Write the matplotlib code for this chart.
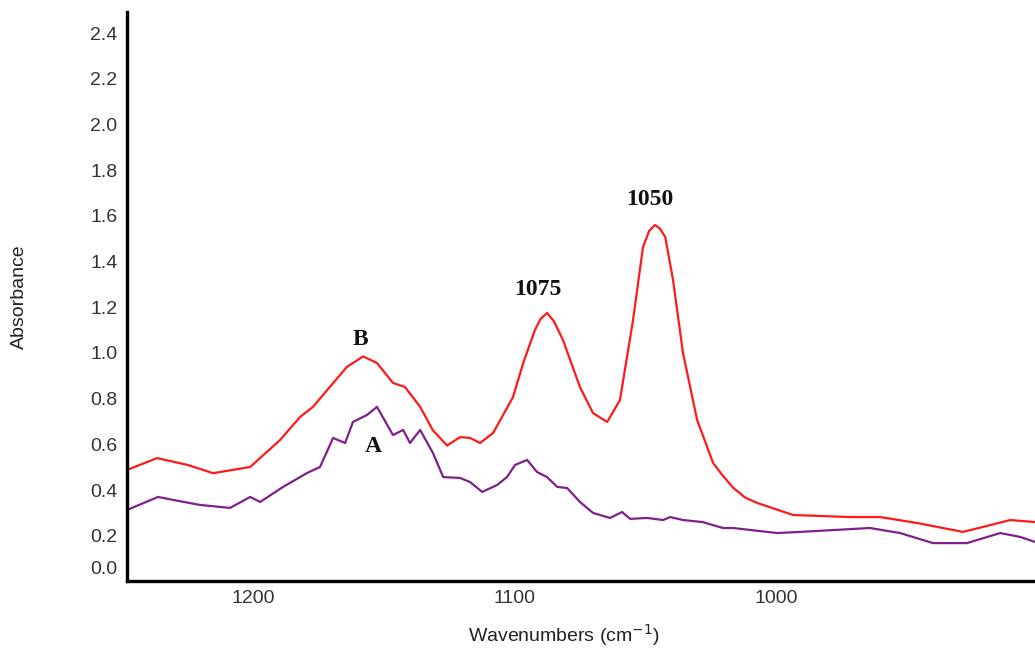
import matplotlib
matplotlib.use("Agg")
import matplotlib.pyplot as plt
import matplotlib.transforms as mtransforms

# spectrum B (red)
wn_b = [1248.2, 1236.7, 1225.0, 1215.3, 1201.1, 1189.7, 1182.0, 1177.1, 1170.0, 1164.1,
        1157.9, 1152.6, 1146.5, 1141.9, 1136.1, 1131.2, 1125.8, 1120.8, 1117.0, 1113.2,
        1108.2, 1100.6, 1096.7, 1092.2, 1090.0, 1087.6, 1085.0, 1081.5, 1075.0, 1070.0,
        1064.6, 1059.7, 1054.7, 1050.9, 1048.5, 1046.3, 1044.5, 1042.4, 1039.4, 1035.6,
        1030.2, 1024.1, 1020.6, 1016.4, 1011.8, 1007.3, 993.5, 971.7, 960.2, 946.1,
        928.5, 920.8, 910.5, 901.0]
abs_b = [0.488, 0.540, 0.510, 0.474, 0.501, 0.619, 0.720, 0.764, 0.860, 0.939,
         0.985, 0.956, 0.869, 0.851, 0.764, 0.661, 0.595, 0.632, 0.628, 0.606,
         0.650, 0.807, 0.956, 1.101, 1.150, 1.175, 1.140, 1.057, 0.851, 0.737,
         0.698, 0.794, 1.144, 1.463, 1.535, 1.560, 1.545, 1.508, 1.319, 1.000,
         0.707, 0.519, 0.466, 0.410, 0.367, 0.344, 0.291, 0.282, 0.282, 0.256,
         0.217, 0.239, 0.269, 0.260]

# spectrum A (purple)
wn_a = [1248.2, 1236.3, 1230.6, 1220.3, 1208.8, 1201.1, 1197.3, 1188.5, 1179.3, 1174.4,
        1169.4, 1164.8, 1161.8, 1156.4, 1152.6, 1146.5, 1142.6, 1140.0, 1136.1, 1131.2,
        1127.3, 1120.8, 1117.0, 1112.4, 1106.7, 1102.9, 1099.8, 1095.2, 1091.4, 1087.6,
        1083.7, 1079.9, 1075.0, 1070.0, 1063.5, 1058.9, 1055.8, 1049.3, 1043.2, 1040.5,
        1035.6, 1028.1, 1020.3, 1016.4, 999.6, 990.8, 964.1, 952.6, 940.0, 927.0,
        914.3, 906.7, 901.0]
abs_a = [0.313, 0.370, 0.357, 0.335, 0.322, 0.370, 0.348, 0.414, 0.475, 0.501,
         0.628, 0.606, 0.698, 0.729, 0.764, 0.641, 0.663, 0.606, 0.663, 0.562,
         0.457, 0.453, 0.435, 0.392, 0.422, 0.457, 0.510, 0.532, 0.479, 0.457,
         0.414, 0.409, 0.348, 0.300, 0.278, 0.304, 0.274, 0.278, 0.269, 0.282,
         0.269, 0.260, 0.234, 0.234, 0.212, 0.217, 0.234, 0.212, 0.168, 0.168,
         0.212, 0.195, 0.173]

yticks = [0.0, 0.2, 0.4, 0.6, 0.8, 1.0, 1.2, 1.4, 1.6, 1.8, 2.0, 2.2, 2.4]
xticks = [1200, 1100, 1000]

# labels on the plot: text, wavenumber, absorbance
notes = [("B", 1159.1, 1.057), ("A", 1154.1, 0.589),
         ("1075", 1091.0, 1.276), ("1050", 1048.2, 1.670)]

sans = ["Liberation Sans", "DejaVu Sans"]
serif = ["Liberation Serif", "DejaVu Serif"]

fig = plt.figure(figsize=(10.35, 6.5), dpi=100)
ax = fig.add_axes([0.1227, 0.1054, 0.8773, 0.8761])

ax.plot(wn_b, abs_b, color="#ff1a1a", lw=1.6)
ax.plot(wn_a, abs_a, color="#80208c", lw=1.6)

for txt, x, y in notes:
    ax.text(x, y, txt, ha="center", va="center", fontsize=17,
            fontweight="bold", family=serif, color="#111111")

ax.set_xlim(1248.2, 901.0)
ax.set_ylim(0.0, 2.492)
ax.set_xticks(xticks)
ax.set_yticks(yticks)
ax.set_yticklabels(["%.1f" % v for v in yticks])

for s in ["top", "right"]:
    ax.spines[s].set_visible(False)
for s in ["left", "bottom"]:
    ax.spines[s].set_linewidth(2.4)
    ax.spines[s].set_color("black")

ax.tick_params(axis="both", length=0, labelsize=14, labelcolor="#333333")
ax.tick_params(axis="y", pad=7)
ax.tick_params(axis="x", pad=6)
for lab in ax.get_xticklabels() + ax.get_yticklabels():
    lab.set_family(sans)

# the 0.0 label sits a little above the axis line in the original
off = mtransforms.ScaledTranslation(0, 0.14, fig.dpi_scale_trans)
lab0 = ax.yaxis.get_major_ticks()[0].label1
lab0.set_transform(lab0.get_transform() + off)

ax.set_xlabel("Wavenumbers (cm$^{-1}$)", fontsize=14, family=sans, color="#222222",
              va="center")
ax.set_ylabel("Absorbance", fontsize=14, family=sans, color="#222222")
ax.xaxis.set_label_coords(0.481, -0.094)
ax.yaxis.set_label_coords(-0.109, 0.50)

fig.savefig("out.png", dpi=100)
